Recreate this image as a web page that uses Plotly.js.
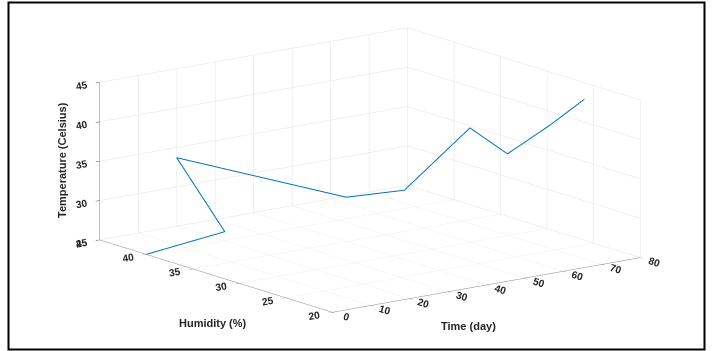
<!DOCTYPE html>
<html>
<head>
<meta charset="utf-8">
<script src="https://cdn.plot.ly/plotly-3.0.1.min.js"></script>
<style>
html,body{margin:0;padding:0;background:#fff;}
#chart{width:712px;height:351px;}
</style>
</head>
<body>
<div id="chart"></div>
<script>
// Data
const timeDays = [0, 10, 20, 30, 40, 50, 60, 70, 80];
const humidity = [40, 35.7, 45, 30.9, 28.8, 25.9, 26, 25.6, 26];
const temperature = [25, 28.6, 33.7, 33.0, 33.8, 41.9, 37.7, 40.6, 42.9];

const xTicks = [0, 10, 20, 30, 40, 50, 60, 70, 80];
const yTicks = [20, 25, 30, 35, 40, 45];
const zTicks = [25, 30, 35, 40, 45];

const xTitle = 'Time (day)';
const yTitle = 'Humidity (%)';
const zTitle = 'Temperature (Celsius)';

const txt = '#262626';
const fam = 'Liberation Sans, Arial, sans-serif';
const tickFont = {family: fam, size: 11, color: txt, weight: 'bold'};
const titleFont = {family: fam, size: 11, color: txt, weight: 'bold'};

function axis(range, ticks) {
  return {
    title: {text: ''},
    range: range,
    tickvals: ticks,
    tickfont: tickFont,
    showgrid: true,
    gridcolor: '#e3e3e3',
    gridwidth: 1,
    showline: true,
    linecolor: '#888888',
    linewidth: 1,
    ticks: 'outside',
    ticklen: 5,
    tickcolor: '#555555',
    zeroline: false,
    showbackground: false,
    showspikes: false
  };
}

const trace = {
  type: 'scatter3d',
  mode: 'lines',
  x: timeDays,
  y: humidity,
  z: temperature,
  line: {color: '#0072BD', width: 2},
  hoverinfo: 'skip',
  showlegend: false
};

const s = 2.27;
const layout = {
  width: 712,
  height: 351,
  margin: {l: 0, r: 0, t: 0, b: 0},
  paper_bgcolor: '#ffffff',
  showlegend: false,
  scene: {
    domain: {x: [0.042, 0.997], y: [0.029, 0.999]},
    xaxis: axis([0, 80], xTicks),
    yaxis: axis([20, 45], yTicks),
    zaxis: axis([25, 45], zTicks),
    aspectmode: 'manual',
    aspectratio: {x: 1 * s, y: 1 * s, z: 0.42 * s},
    camera: {
      projection: {type: 'orthographic'},
      eye: {x: -0.603 * 2, y: -0.798 * 2, z: 0.242 * 2},
      up: {x: 0, y: 0, z: 1},
      center: {x: 0, y: 0, z: 0}
    },
    bgcolor: '#ffffff'
  },
  annotations: [
    {text: yTitle, xref: 'paper', yref: 'paper', x: 213 / 712, y: 1 - 323 / 351,
     showarrow: false, font: titleFont, xanchor: 'center', yanchor: 'middle'},
    {text: xTitle, xref: 'paper', yref: 'paper', x: 468 / 712, y: 1 - 326 / 351,
     showarrow: false, font: titleFont, xanchor: 'center', yanchor: 'middle'},
    {text: zTitle, xref: 'paper', yref: 'paper', x: 62 / 712, y: 1 - 160 / 351,
     showarrow: false, font: titleFont, textangle: -90, xanchor: 'center', yanchor: 'middle'}
  ],
  shapes: [{
    type: 'rect', xref: 'paper', yref: 'paper',
    x0: 8.5 / 712, x1: 704.5 / 712, y0: 1 - 349.5 / 351, y1: 1 - 2.5 / 351,
    line: {color: '#000000', width: 2}, fillcolor: 'rgba(0,0,0,0)'
  }]
};

Plotly.newPlot('chart', [trace], layout, {displayModeBar: false});
</script>
</body>
</html>
